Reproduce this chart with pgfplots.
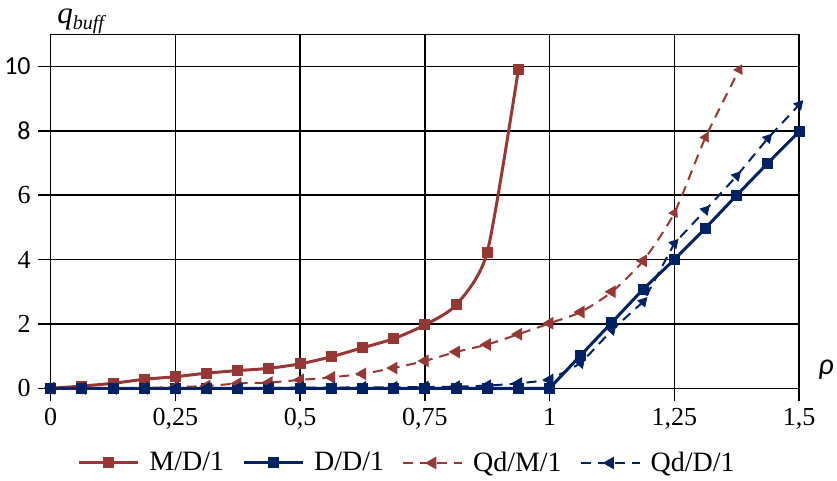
\documentclass[border=0pt]{standalone}
\usepackage{fontspec}
\setmainfont{Liberation Serif}
\newfontfamily\carlito{Carlito}
\usepackage{pgfplots}
\pgfplotsset{compat=1.18}
\definecolor{mred}{RGB}{150,55,52}
\definecolor{mblue}{RGB}{0,33,99}
\begin{document}
\begin{tikzpicture}
\useasboundingbox (0,0) rectangle (418.5pt,240.5pt);
\begin{axis}[
  at={(25.35pt,46.35pt)}, anchor=south west,
  scale only axis, width=374.2pt, height=177pt,
  xmin=0, xmax=1.5, ymin=0, ymax=11,
  xtick={0,0.25,0.5,0.75,1,1.25,1.5},
  xticklabels={0,{0,25},{0,5},{0,75},1,{1,25},{1,5}},
  ytick={0,2,4,6,8,10},
  yticklabels={0,2,4,6,{\carlito 8},{\carlito 10}},
  grid=major, major grid style={black, line width=0.75pt},
  axis line style={black, line width=0.75pt},
  tick style={black, line width=0.75pt},
  tick align=outside, major tick length=6.5pt,
  xtick pos=bottom, ytick pos=left,
  ticklabel style={font=\fontsize{13}{15}\selectfont},
  clip=false,
  legend style={at={(0.4775,-0.211)}, anchor=center, draw=none, fill=none,
    legend columns=4, font=\fontsize{14}{16}\selectfont,
    /tikz/every odd column/.append style={column sep=3pt},
    /tikz/every even column/.append style={column sep=7pt}},
  legend image code/.code={\draw[#1,mark=none] (0pt,0pt) -- (29.5pt,0pt);
    \draw[#1,mark indices={1}] plot coordinates {(14.75pt,0pt)};},
]
% M/D/1
\addplot[mred, line width=1.5pt, smooth, tension=0.4, mark=square*, mark size=2pt, mark options={solid}] coordinates {
(0,0) (0.0625,0.07) (0.125,0.155) (0.1875,0.28) (0.25,0.36) (0.3125,0.47) (0.375,0.55)
(0.4375,0.62) (0.5,0.76) (0.5625,0.98) (0.625,1.26) (0.6875,1.54) (0.75,1.97)
(0.8125,2.59) (0.875,4.23) (0.9375,9.92)};
\addlegendentry{M/D/1}
% D/D/1
\addplot[mblue, line width=1.5pt, mark=square*, mark size=2pt, mark options={solid}] coordinates {
(0,0) (0.0625,0) (0.125,0) (0.1875,0) (0.25,0) (0.3125,0) (0.375,0) (0.4375,0)
(0.5,0) (0.5625,0) (0.625,0) (0.6875,0) (0.75,0) (0.8125,0) (0.875,0) (0.9375,0)
(1,0) (1.0625,1.03) (1.125,2.05) (1.1875,3.08) (1.25,4.0) (1.3125,4.98) (1.375,6.0)
(1.4375,7.0) (1.5,7.98)};
\addlegendentry{D/D/1}
% Qd/M/1
\addplot[mred, line width=1pt, dash pattern=on 5pt off 3.5pt, smooth, tension=0.4, mark=triangle*, mark size=2.7pt, mark options={solid, rotate=90}, mark indices={1,...,20}] coordinates {
(0,0) (0.0625,0) (0.125,0) (0.1875,0.01) (0.25,0.04) (0.3125,0.07) (0.375,0.15)
(0.4375,0.18) (0.5,0.26) (0.5625,0.34) (0.625,0.45) (0.6875,0.63) (0.75,0.85)
(0.8125,1.13) (0.875,1.36) (0.9375,1.68) (1,2.02) (1.0625,2.37) (1.125,3.0)
(1.1875,3.96) (1.25,5.45) (1.3125,7.8) (1.38,9.9)};
\addlegendentry{Qd/M/1}
\addplot[mred, only marks, forget plot, mark=triangle*, mark size=2.7pt, mark options={solid, rotate=-28}, mark indices={21,22,23}] coordinates {
(0,0) (0.0625,0) (0.125,0) (0.1875,0.01) (0.25,0.04) (0.3125,0.07) (0.375,0.15)
(0.4375,0.18) (0.5,0.26) (0.5625,0.34) (0.625,0.45) (0.6875,0.63) (0.75,0.85)
(0.8125,1.13) (0.875,1.36) (0.9375,1.68) (1,2.02) (1.0625,2.37) (1.125,3.0)
(1.1875,3.96) (1.25,5.45) (1.3125,7.8) (1.38,9.9)};
% Qd/D/1
\addplot[mblue, line width=1pt, dash pattern=on 5pt off 3.5pt, mark=triangle*, mark size=2.7pt, mark options={solid, rotate=90}, mark indices={1,...,17}] coordinates {
(0,0) (0.0625,0) (0.125,0) (0.1875,0) (0.25,0) (0.3125,0) (0.375,0) (0.4375,0.01)
(0.5,0.02) (0.5625,0.02) (0.625,0.03) (0.6875,0.03) (0.75,0.04) (0.8125,0.05) (0.875,0.08) (0.9375,0.15)
(1,0.26) (1.0625,0.78) (1.125,1.81) (1.1875,2.69) (1.25,4.5) (1.3125,5.54) (1.375,6.6)
(1.4375,7.77) (1.5,8.81)};
\addlegendentry{Qd/D/1}
\addplot[mblue, only marks, forget plot, mark=triangle*, mark size=2.7pt, mark options={solid, rotate=-42}, mark indices={18,...,25}] coordinates {
(0,0) (0.0625,0) (0.125,0) (0.1875,0) (0.25,0) (0.3125,0) (0.375,0) (0.4375,0.01)
(0.5,0.02) (0.5625,0.02) (0.625,0.03) (0.6875,0.03) (0.75,0.04) (0.8125,0.05) (0.875,0.08) (0.9375,0.15)
(1,0.26) (1.0625,0.78) (1.125,1.81) (1.1875,2.69) (1.25,4.5) (1.3125,5.54) (1.375,6.6)
(1.4375,7.77) (1.5,8.81)};
\end{axis}
\node[anchor=base west, inner sep=0pt] at (28.5pt,228.5pt) {\fontsize{15.5}{18}\selectfont\textit{q}\raisebox{-3pt}{\fontsize{10}{12}\selectfont\textit{buff}}};
\node[anchor=center, inner sep=0pt] at (413pt,55.5pt) {\carlito\itshape\fontsize{15}{17}\selectfont ρ};
\end{tikzpicture}
\end{document}
